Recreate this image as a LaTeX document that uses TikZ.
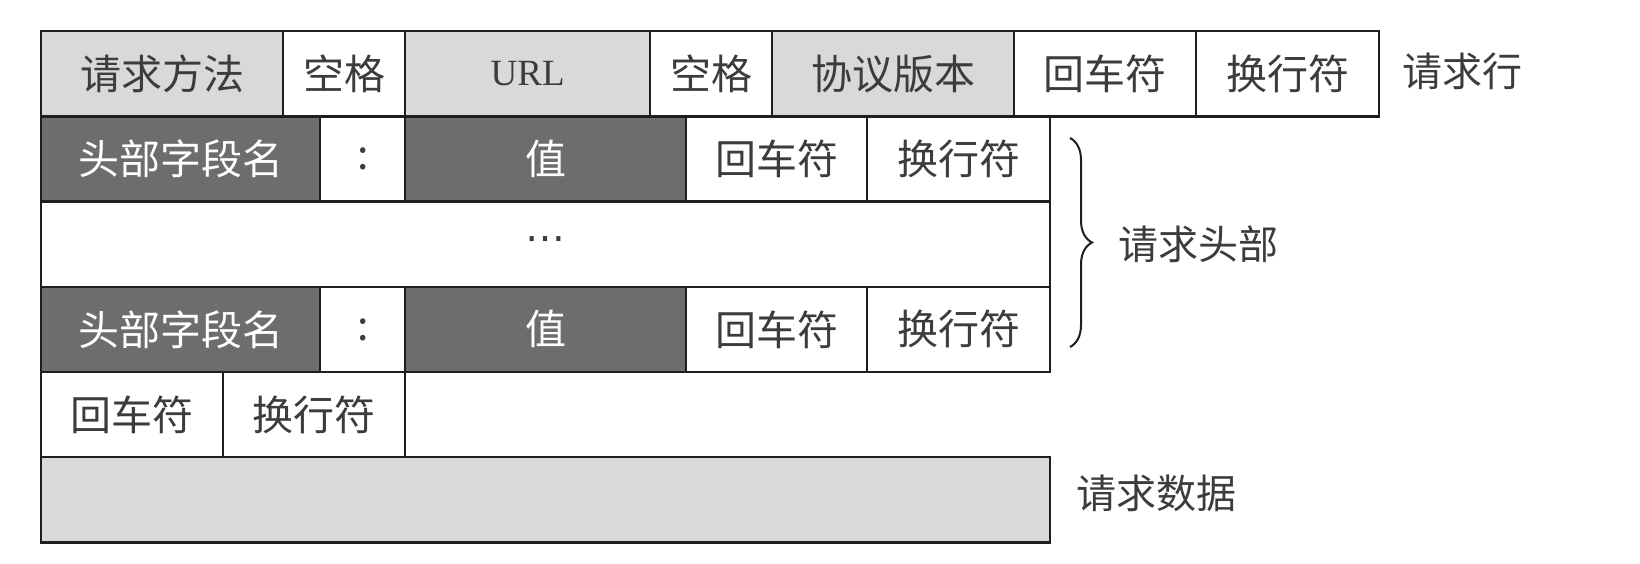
\documentclass[tikz,border=0pt]{standalone}
\usepackage{fontspec}
\newfontfamily\cjk{Noto Sans CJK SC}
\newfontfamily\lserif{Liberation Serif}
\newfontfamily\dvs{DejaVu Sans}
\usetikzlibrary{decorations.pathreplacing}
\definecolor{lightfill}{HTML}{D9D9D9}
\definecolor{darkfill}{HTML}{6D6D6D}
\definecolor{txt}{HTML}{3C3C3C}
\definecolor{edge}{HTML}{1E1E1E}
\begin{document}
\begin{tikzpicture}[x=1pt,y=-1pt,
  cell/.style={draw=edge, line width=2.4pt, anchor=north west, inner sep=0pt,
    font=\cjk\fontsize{41}{41}\selectfont, text=txt, minimum height=85.2pt},
  light/.style={cell, fill=lightfill},
  dark/.style={cell, fill=darkfill, text=white},
  plain/.style={cell, fill=white},
  sidelabel/.style={font=\cjk\fontsize{40}{40}\selectfont, text=txt, inner sep=0pt}]
\useasboundingbox (0,0) rectangle (1640,564);
% row 1: request line
\node[light, minimum width=242pt] (meth) at (40,30) {请求方法};
\node[plain, minimum width=122pt] (sp1) at (282,30) {空格};
\node[light, minimum width=245pt, font=\lserif\fontsize{37}{37}\selectfont] (url) at (404,30) {URL};
\node[plain, minimum width=122pt] (sp2) at (649,30) {空格};
\node[light, minimum width=242pt] (ver) at (771,30) {协议版本};
\node[plain, minimum width=182pt] (cra) at (1013,30) {回车符};
\node[plain, minimum width=183pt] (lfa) at (1195,30) {换行符};
\node[sidelabel] (lreq) at (1462,71) {请求行};
% row 2: header
\node[dark, minimum width=279pt] (hna) at (40,115.2) {头部字段名};
\node[plain, minimum width=85pt] (cola) at (319,115.2) {:};
\node[dark, minimum width=281pt] (vala) at (404,115.2) {值};
\node[plain, minimum width=181pt] (crb) at (685,115.2) {回车符};
\node[plain, minimum width=183pt] (lfb) at (866,115.2) {换行符};
% row 3: ellipsis
\node[plain, minimum width=1009pt, font=\dvs\fontsize{40}{40}\selectfont] (dots) at (40,200.4) {⋯};
% row 4: header
\node[dark, minimum width=279pt] (hnb) at (40,285.6) {头部字段名};
\node[plain, minimum width=85pt] (colb) at (319,285.6) {:};
\node[dark, minimum width=281pt] (valb) at (404,285.6) {值};
\node[plain, minimum width=181pt] (crc) at (685,285.6) {回车符};
\node[plain, minimum width=183pt] (lfc) at (866,285.6) {换行符};
% row 5: blank line
\node[plain, minimum width=182pt] (crd) at (40,370.8) {回车符};
\node[plain, minimum width=182pt] (lfd) at (222,370.8) {换行符};
% row 6: body
\node[light, minimum width=1009pt] (body) at (40,456) {};
\node[sidelabel] (lbody) at (1156,493) {请求数据};
% brace
\coordinate (bt) at (1070,138);
\coordinate (bb) at (1070,347);
\draw[decorate, decoration={brace, amplitude=22pt}, line width=2pt, draw=edge] (bt) -- (bb);
\node[sidelabel] (lhead) at (1198,244) {请求头部};
\end{tikzpicture}
\end{document}
